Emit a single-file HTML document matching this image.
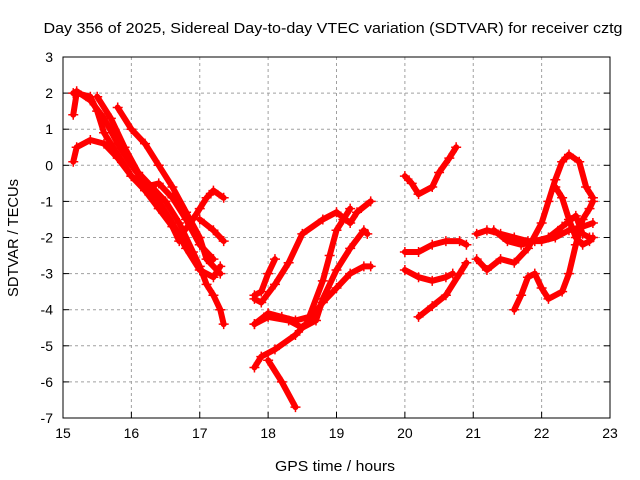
<!DOCTYPE html>
<html><head><meta charset="utf-8"><style>
body{margin:0;background:#fff}
svg{display:block;font-family:"Liberation Sans",sans-serif}
</style></head><body>
<svg id="chart" width="640" height="480">
<text x="333" y="33" text-anchor="middle" font-size="15" textLength="579" lengthAdjust="spacingAndGlyphs">Day 356 of 2025, Sidereal Day-to-day VTEC variation (SDTVAR) for receiver cztg</text>
<text x="335" y="471" text-anchor="middle" font-size="15" textLength="120" lengthAdjust="spacingAndGlyphs">GPS time / hours</text>
<text transform="translate(18,238) rotate(-90)" text-anchor="middle" font-size="15" textLength="118" lengthAdjust="spacingAndGlyphs">SDTVAR / TECUs</text>
<g id="grid"></g><g id="ticks"></g><g id="marks"></g>
<rect x="63" y="57" width="547" height="361" fill="none" stroke="#000"/>
</svg>
<script>
const xTicks=[15,16,17,18,19,20,21,22,23];
const yTicks=[3,2,1,0,-1,-2,-3,-4,-5,-6,-7];
const trackA=[[15.15,2.0],[15.2,2.05],[15.4,1.8],[15.6,1.3],[15.8,0.6],[16.0,0.0],[16.2,-0.5],[16.4,-1.0],[16.6,-1.6],[16.8,-2.3],[17.0,-2.9],[17.2,-3.1],[17.3,-2.8]];
const trackB=[[15.5,1.9],[15.7,1.3],[15.9,0.5],[16.1,-0.2],[16.3,-0.6],[16.5,-1.0],[16.7,-1.6],[16.9,-2.4],[17.0,-2.8],[17.1,-3.3],[17.2,-3.6],[17.3,-4.0],[17.35,-4.4]];
const trackC=[[15.15,1.4],[15.2,2.0],[15.4,1.9],[15.5,1.5],[15.6,0.9],[15.8,0.3],[16.0,-0.3],[16.2,-0.6],[16.4,-0.5],[16.6,-0.9],[16.8,-1.5],[17.0,-2.2],[17.2,-2.6]];
const trackD=[[15.15,0.1],[15.2,0.5],[15.4,0.7],[15.6,0.6],[15.8,0.2],[16.0,-0.3],[16.2,-0.7],[16.4,-1.2],[16.6,-1.7],[16.7,-2.1]];
const trackE=[[15.8,1.6],[16.0,1.0],[16.2,0.6],[16.4,0.0],[16.6,-0.6],[16.8,-1.3],[17.0,-2.0],[17.1,-2.6],[17.3,-3.0]];
const trackF=[[16.7,-2.0],[16.9,-1.5],[17.0,-1.2],[17.1,-0.9],[17.2,-0.7],[17.35,-0.9]];
const trackG=[[17.0,-1.5],[17.2,-1.8],[17.35,-2.1]];
const trackH=[[17.8,-3.6],[17.9,-3.5],[18.0,-3.0],[18.1,-2.6]];
const trackI=[[17.8,-3.7],[17.9,-3.8],[18.1,-3.3],[18.3,-2.7],[18.5,-1.9],[18.8,-1.5],[19.0,-1.3],[19.2,-1.6],[19.3,-1.3],[19.5,-1.0]];
const trackJ=[[17.8,-5.6],[17.9,-5.3],[18.1,-5.1],[18.4,-4.7],[18.6,-4.3],[18.8,-3.8],[19.0,-3.4],[19.2,-3.0],[19.4,-2.8],[19.5,-2.8]];
const trackK=[[18.0,-5.4],[18.2,-6.0],[18.4,-6.7]];
const trackL=[[17.8,-4.4],[18.0,-4.2],[18.3,-4.3],[18.5,-4.5],[18.7,-4.3],[18.8,-3.7],[19.0,-2.9],[19.2,-2.3],[19.4,-1.8],[19.45,-1.9]];
const trackM=[[17.8,-4.4],[18.0,-4.1],[18.2,-4.2],[18.4,-4.3],[18.6,-4.2],[18.8,-3.2],[18.9,-2.5],[19.0,-1.8],[19.1,-1.5],[19.2,-1.2]];
const trackN=[[20.0,-0.3],[20.1,-0.5],[20.2,-0.8],[20.4,-0.6],[20.5,-0.2],[20.65,0.2],[20.75,0.5]];
const trackO=[[20.0,-2.4],[20.2,-2.4],[20.4,-2.2],[20.6,-2.1],[20.8,-2.1],[20.9,-2.2]];
const trackP=[[20.0,-2.9],[20.2,-3.1],[20.4,-3.2],[20.6,-3.1],[20.7,-3.0]];
const trackQ=[[20.2,-4.2],[20.4,-3.9],[20.6,-3.6],[20.8,-3.0],[20.9,-2.7]];
const trackR=[[21.05,-1.9],[21.2,-1.8],[21.4,-1.9],[21.6,-2.0],[21.8,-2.1],[22.0,-2.1],[22.2,-2.0],[22.4,-1.8],[22.6,-1.7],[22.75,-1.6]];
const trackS=[[21.05,-2.6],[21.2,-2.9],[21.4,-2.6],[21.6,-2.7],[21.8,-2.3],[22.0,-1.6],[22.1,-1.0],[22.2,-0.4],[22.3,0.1],[22.4,0.3],[22.55,0.1],[22.65,-0.6],[22.75,-0.9]];
const trackT=[[21.6,-4.0],[21.7,-3.6],[21.8,-3.1],[21.9,-3.0],[22.0,-3.4],[22.1,-3.7],[22.3,-3.5],[22.4,-3.0],[22.5,-2.2],[22.6,-1.5],[22.7,-1.2],[22.75,-1.0]];
const trackU=[[21.3,-1.8],[21.5,-2.1],[21.7,-2.2],[21.9,-2.1],[22.1,-2.0],[22.3,-1.7],[22.5,-1.4],[22.6,-1.9],[22.7,-2.0]];
const trackV=[[22.2,-0.6],[22.3,-0.9],[22.4,-1.5],[22.5,-2.0],[22.6,-2.2],[22.7,-2.1],[22.75,-2.0]];
const tracks=[trackA,trackB,trackC,trackD,trackE,trackF,trackG,trackH,trackI,trackJ,trackK,trackL,trackM,trackN,trackO,trackP,trackQ,trackR,trackS,trackT,trackU,trackV];

const NS="http://www.w3.org/2000/svg";
const X0=63,X1=610,Y0=418,Y1=57;
const xs=v=>X0+(v-15)/8*(X1-X0);
const ys=v=>Y0-(v+7)/10*(Y0-Y1);
function mk(t,a,p){const e=document.createElementNS(NS,t);for(const k in a)e.setAttribute(k,a[k]);p.appendChild(e);return e;}
const grid=document.getElementById('grid'),ticks=document.getElementById('ticks'),marks=document.getElementById('marks');
xTicks.forEach(v=>{
  const x=xs(v);
  if(v>15&&v<23){const g=mk('line',{x1:x,x2:x,y1:Y1,y2:Y0,stroke:'#a0a0a0','stroke-dasharray':'3,3'},grid);
  
  }
  const t=mk('line',{x1:x,x2:x,y1:Y0,y2:Y0-6,stroke:'#000'},ticks);
  
  
  const l=mk('text',{x:x,y:Y0+20,'text-anchor':'middle','font-size':14},ticks);l.textContent=v;
  
  
});
yTicks.forEach(v=>{
  const y=ys(v);
  if(v<3&&v>-7){const g=mk('line',{x1:X0,x2:X1,y1:y,y2:y,stroke:'#a0a0a0','stroke-dasharray':'3,3'},grid);
  
  }
  const t=mk('line',{x1:X0,x2:X0+6,y1:y,y2:y,stroke:'#000'},ticks);
  
  
  const t2=mk('line',{x1:X1,x2:X1-6,y1:y,y2:y,stroke:'#000'},ticks);
  
  
  const l=mk('text',{x:X0-10,y:y+5,'text-anchor':'end','font-size':14},ticks);l.textContent=v;
  
  
});
tracks.forEach((tr,i)=>{
  const g=mk('g',{},marks);
  
  
  const pts=tr.map(p=>xs(p[0])+','+ys(p[1])).join(' ');
  const pl=mk('polyline',{points:pts,fill:'none',stroke:'#f00','stroke-width':6,'stroke-linejoin':'round','stroke-linecap':'round'},g);
  
  
  tr.forEach(p=>{
    const x=xs(p[0]),y=ys(p[1]);
    const m=mk('path',{d:`M${x-5},${y}H${x+5}M${x},${y-5}V${y+5}`,stroke:'#f00','stroke-width':1.5},g);
    
    
  });
});
</script>
</body></html>
